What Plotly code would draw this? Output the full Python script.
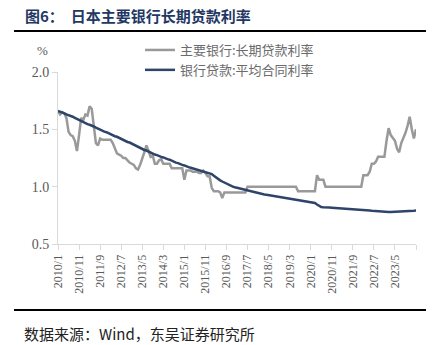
import plotly.graph_objects as go

# Monthly categories 2010/1 .. 2024/3
months = [f"{y}/{m}" for y in range(2010, 2025) for m in range(1, 13)][:171]

tick_labels = ["2010/1", "2010/11", "2011/9", "2012/7", "2013/5", "2014/3", "2015/1",
               "2015/11", "2016/9", "2017/7", "2018/5", "2019/3", "2020/1", "2020/11",
               "2021/9", "2022/7", "2023/5"]

# 主要银行:长期贷款利率
long_term_rate = [
    1.66, 1.63, 1.65, 1.64, 1.60, 1.48, 1.45, 1.44, 1.40, 1.31,
    1.45, 1.60, 1.58, 1.63, 1.62, 1.70, 1.68, 1.55, 1.38, 1.36,
    1.42, 1.41, 1.41, 1.41, 1.41, 1.41, 1.38, 1.34, 1.29, 1.28,
    1.27, 1.25, 1.25, 1.23, 1.21, 1.20, 1.19, 1.16, 1.15, 1.19,
    1.24, 1.30, 1.36, 1.30, 1.26, 1.27, 1.20, 1.20, 1.23, 1.24,
    1.20, 1.20, 1.20, 1.20, 1.16, 1.16, 1.16, 1.16, 1.16, 1.16,
    1.06, 1.14, 1.14, 1.14, 1.13, 1.13, 1.13, 1.12, 1.12, 1.14,
    1.12, 1.09, 1.09, 0.99, 0.96, 0.96, 0.96, 0.95, 0.90, 0.95,
    0.95, 0.95, 0.95, 0.95, 0.95, 0.95, 0.95, 0.95, 0.95, 0.95,
    1.00, 1.00, 1.00, 1.00, 1.00, 1.00, 1.00, 1.00, 1.00, 1.00,
    1.00, 1.00, 1.00, 1.00, 1.00, 1.00, 1.00, 1.00, 1.00, 1.00,
    1.00, 1.00, 1.00, 1.00, 0.96, 0.96, 0.96, 0.96, 0.96, 0.96,
    0.96, 0.96, 0.96, 1.10, 1.06, 1.06, 1.06, 1.00, 1.00, 1.00,
    1.00, 1.00, 1.00, 1.00, 1.00, 1.00, 1.00, 1.00, 1.00, 1.00,
    1.00, 1.00, 1.00, 1.00, 1.00, 1.10, 1.10, 1.10, 1.13, 1.20,
    1.20, 1.22, 1.26, 1.26, 1.26, 1.26, 1.40, 1.51, 1.45, 1.42,
    1.40, 1.33, 1.30, 1.38, 1.42, 1.47, 1.53, 1.61, 1.50, 1.42,
    1.50,
]

# 银行贷款:平均合同利率
avg_contract_rate = [
    1.660, 1.655, 1.650, 1.640, 1.630, 1.625, 1.615, 1.610, 1.600, 1.590,
    1.585, 1.575, 1.565, 1.555, 1.545, 1.540, 1.535, 1.525, 1.515, 1.505,
    1.500, 1.490, 1.480, 1.475, 1.465, 1.460, 1.450, 1.440, 1.435, 1.425,
    1.415, 1.410, 1.400, 1.390, 1.385, 1.375, 1.365, 1.360, 1.350, 1.340,
    1.330, 1.320, 1.315, 1.305, 1.300, 1.290, 1.280, 1.275, 1.265, 1.260,
    1.255, 1.245, 1.240, 1.235, 1.225, 1.220, 1.210, 1.205, 1.195, 1.190,
    1.185, 1.175, 1.170, 1.165, 1.160, 1.155, 1.150, 1.145, 1.140, 1.135,
    1.130, 1.125, 1.120, 1.110, 1.095, 1.080, 1.065, 1.055, 1.045, 1.035,
    1.025, 1.015, 1.005, 1.000, 0.995, 0.990, 0.985, 0.980, 0.975, 0.970,
    0.965, 0.960, 0.956, 0.952, 0.948, 0.944, 0.940, 0.936, 0.932, 0.929,
    0.926, 0.923, 0.920, 0.917, 0.914, 0.911, 0.908, 0.906, 0.903, 0.900,
    0.897, 0.894, 0.891, 0.888, 0.885, 0.883, 0.880, 0.877, 0.874, 0.871,
    0.868, 0.864, 0.858, 0.845, 0.830, 0.822, 0.820, 0.821, 0.820, 0.818,
    0.817, 0.816, 0.815, 0.813, 0.812, 0.810, 0.809, 0.807, 0.806, 0.805,
    0.804, 0.802, 0.801, 0.800, 0.798, 0.797, 0.796, 0.794, 0.792, 0.790,
    0.788, 0.786, 0.784, 0.782, 0.780, 0.779, 0.778, 0.778, 0.779, 0.780,
    0.779, 0.778, 0.777, 0.780, 0.782, 0.781, 0.783, 0.785, 0.786, 0.790,
    0.792,
]

series_names = ["主要银行:长期贷款利率", "银行贷款:平均合同利率"]

CJK = "Noto Sans CJK SC"
SERIF = "Liberation Serif"

fig = go.Figure()
fig.add_trace(go.Scatter(x=months, y=long_term_rate, mode="lines", name=series_names[0],
                         line=dict(color="#999999", width=2.5)))
fig.add_trace(go.Scatter(x=months, y=avg_contract_rate, mode="lines", name=series_names[1],
                         line=dict(color="#2E4468", width=2.5)))

tickvals = tick_labels + [months[-1]]
ticktext = tick_labels + [""]

W, H = 439, 345
L, R, T, B = 58, 23, 72, 101
pw, ph = W - L - R, H - T - B

def px(x):
    return (x - L) / pw

def py(y):
    return (H - B - y) / ph

fig.update_layout(
    width=W, height=H,
    margin=dict(l=L, r=R, t=T, b=B),
    paper_bgcolor="white", plot_bgcolor="white",
    showlegend=True,
    legend=dict(x=px(140), y=py(35), xanchor="left", yanchor="top",
                bgcolor="rgba(0,0,0,0)", font=dict(family=CJK, size=13, color="#6b6b6b"),
                tracegroupgap=0, itemwidth=30),
    xaxis=dict(type="category", range=[0, 170], tickmode="array", tickvals=tickvals,
               ticktext=ticktext, tickangle=-90, ticks="outside", ticklen=5,
               tickcolor="#d9d9d9", showline=True, linecolor="#d9d9d9", linewidth=1,
               showgrid=False, zeroline=False,
               tickfont=dict(family=SERIF, size=12, color="#595959")),
    yaxis=dict(range=[0.5, 2.0], tickmode="array", tickvals=[0.5, 1.0, 1.5, 2.0],
               ticktext=["0.5", "1.0", "1.5", "2.0"], ticks="outside", ticklen=5,
               tickcolor="#d9d9d9", showline=True, linecolor="#d9d9d9", linewidth=1,
               showgrid=False, zeroline=False,
               tickfont=dict(family=SERIF, size=14, color="#595959")),
    annotations=[
        dict(text="<b>图6：  日本主要银行长期贷款利率</b>", x=px(23), y=py(15), xref="paper",
             yref="paper", xanchor="left", yanchor="middle", showarrow=False,
             font=dict(family=CJK, size=15, color="#1F3864")),
        dict(text="%", x=px(42), y=py(50), xref="paper", yref="paper", xanchor="center",
             yanchor="middle", showarrow=False,
             font=dict(family=SERIF, size=13, color="#595959")),
        dict(text="数据来源：Wind，东吴证券研究所", x=px(22), y=py(333), xref="paper",
             yref="paper", xanchor="left", yanchor="middle", showarrow=False,
             font=dict(family=CJK, size=15, color="#222222")),
    ],
    shapes=[
        dict(type="line", xref="paper", yref="paper", x0=px(14), x1=px(426),
             y0=py(31), y1=py(31), line=dict(color="#000000", width=2)),
        dict(type="line", xref="paper", yref="paper", x0=px(14), x1=px(426),
             y0=py(310), y1=py(310), line=dict(color="#000000", width=2)),
    ],
)

fig.write_html("out.html")
